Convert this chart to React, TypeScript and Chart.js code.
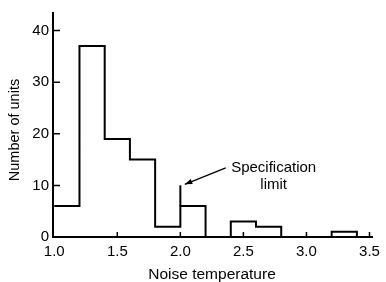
import React, { useEffect, useRef } from 'react';
import { Chart, registerables } from 'chart.js';

Chart.register(...registerables);

// Histogram bin left edges and counts (last entry closes the final bin)
const binEdges = [1.0, 1.2, 1.4, 1.6, 1.8, 2.0, 2.2, 2.4, 2.6, 2.8, 3.0, 3.2, 3.4];
const counts = [6, 37, 19, 15, 2, 6, 0, 3, 2, 0, 0, 1, 0];
const xTicks = [1.0, 1.5, 2.0, 2.5, 3.0, 3.5];
const yTicks = [0, 10, 20, 30, 40];
const specLimit = 2.0;
const specLimitTop = 10;
const specLabel = ['Specification', 'limit'];
const xTitle = 'Noise temperature';
const yTitle = 'Number of units';

const FONT = '"Liberation Sans", Arial, sans-serif';

const annotations = {
  id: 'annotations',
  afterDraw(chart: any) {
    const { ctx, scales } = chart;
    const xs = scales.x;
    const ys = scales.y;
    const area = chart.chartArea;
    ctx.save();
    ctx.strokeStyle = '#000';
    ctx.fillStyle = '#000';
    ctx.lineWidth = 1.5;
    // inward tick marks
    ctx.beginPath();
    yTicks.forEach((v) => {
      if (v === 0) return;
      const py = ys.getPixelForValue(v);
      ctx.moveTo(area.left, py);
      ctx.lineTo(area.left + 7, py);
    });
    xTicks.forEach((v, i) => {
      if (i === 0) return;
      const px = xs.getPixelForValue(v);
      ctx.moveTo(px, area.bottom);
      ctx.lineTo(px, area.bottom - 5);
    });
    ctx.stroke();

    // specification limit marker
    ctx.lineWidth = 2;
    const sx = xs.getPixelForValue(specLimit);
    ctx.beginPath();
    ctx.moveTo(sx, ys.getPixelForValue(6));
    ctx.lineTo(sx, ys.getPixelForValue(specLimitTop));
    ctx.stroke();

    // arrow
    const tx = xs.getPixelForValue(2.36);
    const ty = ys.getPixelForValue(13.4);
    const hx = xs.getPixelForValue(2.035);
    const hy = ys.getPixelForValue(10.2);
    ctx.lineWidth = 1.3;
    ctx.beginPath();
    ctx.moveTo(tx, ty);
    ctx.lineTo(hx, hy);
    ctx.stroke();
    const ang = Math.atan2(hy - ty, hx - tx);
    const len = 8;
    ctx.beginPath();
    ctx.moveTo(hx, hy);
    ctx.lineTo(hx - len * Math.cos(ang - 0.35), hy - len * Math.sin(ang - 0.35));
    ctx.lineTo(hx - len * Math.cos(ang + 0.35), hy - len * Math.sin(ang + 0.35));
    ctx.closePath();
    ctx.fill();

    // label
    ctx.font = `15px ${FONT}`;
    ctx.textAlign = 'center';
    ctx.textBaseline = 'alphabetic';
    ctx.fillText(specLabel[0], xs.getPixelForValue(2.74), ys.getPixelForValue(12.56));
    ctx.fillText(specLabel[1], xs.getPixelForValue(2.74), ys.getPixelForValue(9.3));

    // axis titles
    ctx.font = `15.5px ${FONT}`;
    ctx.fillText(xTitle, 212, 279);
    ctx.font = `14.5px ${FONT}`;
    ctx.textBaseline = 'middle';
    ctx.translate(15, 130);
    ctx.rotate(-Math.PI / 2);
    ctx.fillText(yTitle, 0, 0);
    ctx.restore();
  },
};

export default function App() {
  const ref = useRef<HTMLCanvasElement>(null);
  useEffect(() => {
    document.body.style.margin = '0';
    const chart = new Chart(ref.current as HTMLCanvasElement, {
      type: 'line',
      data: {
        datasets: [
          {
            data: binEdges.map((x, i) => ({ x, y: counts[i] })),
            stepped: 'before',
            borderColor: '#000',
            borderWidth: 2,
            pointRadius: 0,
            fill: false,
          },
        ],
      },
      options: {
        responsive: false,
        animation: false,
        layout: { padding: { top: 10, right: 11, left: 0, bottom: 0 } },
        plugins: { legend: { display: false }, tooltip: { enabled: false } },
        scales: {
          x: {
            type: 'linear',
            min: 0.99,
            max: 3.52,
            afterBuildTicks: (s: any) => {
              s.ticks = xTicks.map((v) => ({ value: v }));
            },
            afterFit: (s: any) => {
              s.height = 45;
            },
            ticks: {
              color: '#000',
              font: { family: FONT, size: 15 },
              padding: 6,
              maxRotation: 0,
              callback: (v: any) => Number(v).toFixed(1),
            },
            grid: { display: false, drawTicks: false },
            border: { display: true, color: '#000', width: 2 },
          },
          y: {
            type: 'linear',
            min: 0,
            max: 43.4,
            afterBuildTicks: (s: any) => {
              s.ticks = yTicks.map((v) => ({ value: v }));
            },
            afterFit: (s: any) => {
              s.width = 53;
            },
            ticks: {
              color: '#000',
              font: { family: FONT, size: 15 },
              padding: 4,
            },
            grid: { display: false, drawTicks: false },
            border: { display: true, color: '#000', width: 2 },
          },
        },
      },
      plugins: [annotations],
    });
    return () => chart.destroy();
  }, []);
  return (
    <div style={{ position: 'absolute', left: 0, top: 0, width: 386, height: 282 }}>
      <canvas ref={ref} width={386} height={282} />
    </div>
  );
}
